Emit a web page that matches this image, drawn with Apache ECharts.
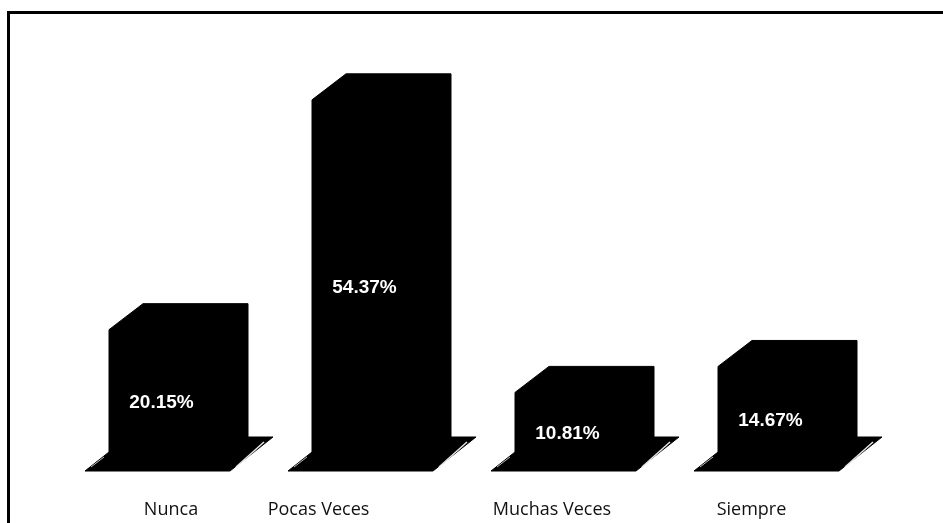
<!DOCTYPE html>
<html>
<head>
<meta charset="utf-8">
<title>Frecuencia</title>
<script src="https://cdn.jsdelivr.net/npm/echarts@6/dist/echarts.min.js"></script>
<style>
  html, body { margin: 0; padding: 0; background: #fff; }
  #chart { width: 943px; height: 523px; }
</style>
</head>
<body>
<div id="chart"></div>
<script>
// Categories and percentages
const categories = ['Nunca', 'Pocas Veces', 'Muchas Veces', 'Siempre'];
const percentages = [20.15, 54.37, 10.81, 14.67];

const chart = echarts.init(document.getElementById('chart'), null, { renderer: 'canvas' });

// Pseudo-3D column: front face, bevelled top, right side and floor plate
function renderColumn(params, api) {
  const idx = api.value(0);
  const val = api.value(1);
  const base = api.coord([idx, 0]);
  const top = api.coord([idx, val]);
  const cx = base[0], y0 = base[1], yt = top[1];
  const hw = 52.5, dx = 34, dy = 26;
  const fl = cx - hw, fr = cx + hw;
  const backY = y0 - 28, frontY = y0 + 6;
  const pts = [
    [fl, yt],
    [fl + dx, yt - dy],
    [fr + dx, yt - dy],
    [fr + dx, backY],
    [fr + 59, backY],
    [fr + 16, frontY],
    [fl - 24, frontY],
    [fl, y0 - 13]
  ];
  return {
    type: 'group',
    children: [
      { type: 'polygon', shape: { points: pts }, style: { fill: '#000', stroke: '#000', lineWidth: 1 } },
      { type: 'line', shape: { x1: fr + 50, y1: backY + 5, x2: fr + 22, y2: frontY - 4 },
        style: { stroke: '#e6e6e6', lineWidth: 1.5 } },
      { type: 'line', shape: { x1: fl - 18, y1: frontY - 4, x2: fl - 5, y2: frontY - 14 },
        style: { stroke: '#bbbbbb', lineWidth: 1 } },
      { type: 'text', style: {
          text: val.toFixed(2) + '%',
          x: cx, y: (yt + y0) / 2 + 5,
          align: 'center', verticalAlign: 'middle',
          fill: '#ffffff', stroke: '#000', lineWidth: 1,
          font: 'bold 19px "Liberation Sans", Arial, sans-serif'
        } }
    ]
  };
}

const labelFont = { fontFamily: '"Open Sans", sans-serif', fontSize: 18, color: '#111' };

const option = {
  backgroundColor: '#ffffff',
  animation: false,
  graphic: [
    // frame: top and left edges
    { type: 'polyline', shape: { points: [[8.5, 523], [8.5, 12.5], [943, 12.5]] },
      style: { fill: null, stroke: '#000', lineWidth: 3 }, z: 10 }
  ],
  grid: { left: 60, right: 71, top: 62, bottom: 58 },
  xAxis: {
    type: 'category',
    data: categories,
    axisLine: { show: false },
    axisTick: { show: false },
    axisLabel: {
      interval: 0,
      margin: 36,
      fontFamily: '"Open Sans", sans-serif',
      fontSize: 18,
      color: '#111',
      formatter: function (v, i) { return '{c' + i + '|' + v + '}'; },
      rich: {
        c0: Object.assign({ padding: [0, 0, 0, 19] }, labelFont),
        c1: Object.assign({ padding: [0, 92, 0, 0] }, labelFont),
        c2: Object.assign({ padding: [0, 31, 0, 0] }, labelFont),
        c3: Object.assign({ padding: [0, 38, 0, 0] }, labelFont)
      }
    }
  },
  yAxis: { type: 'value', min: 0, max: 60, show: false, splitLine: { show: false } },
  series: [{
    type: 'custom',
    renderItem: renderColumn,
    encode: { x: 0, y: 1 },
    data: percentages.map((v, i) => [i, v])
  }]
};

chart.setOption(option);
</script>
</body>
</html>
